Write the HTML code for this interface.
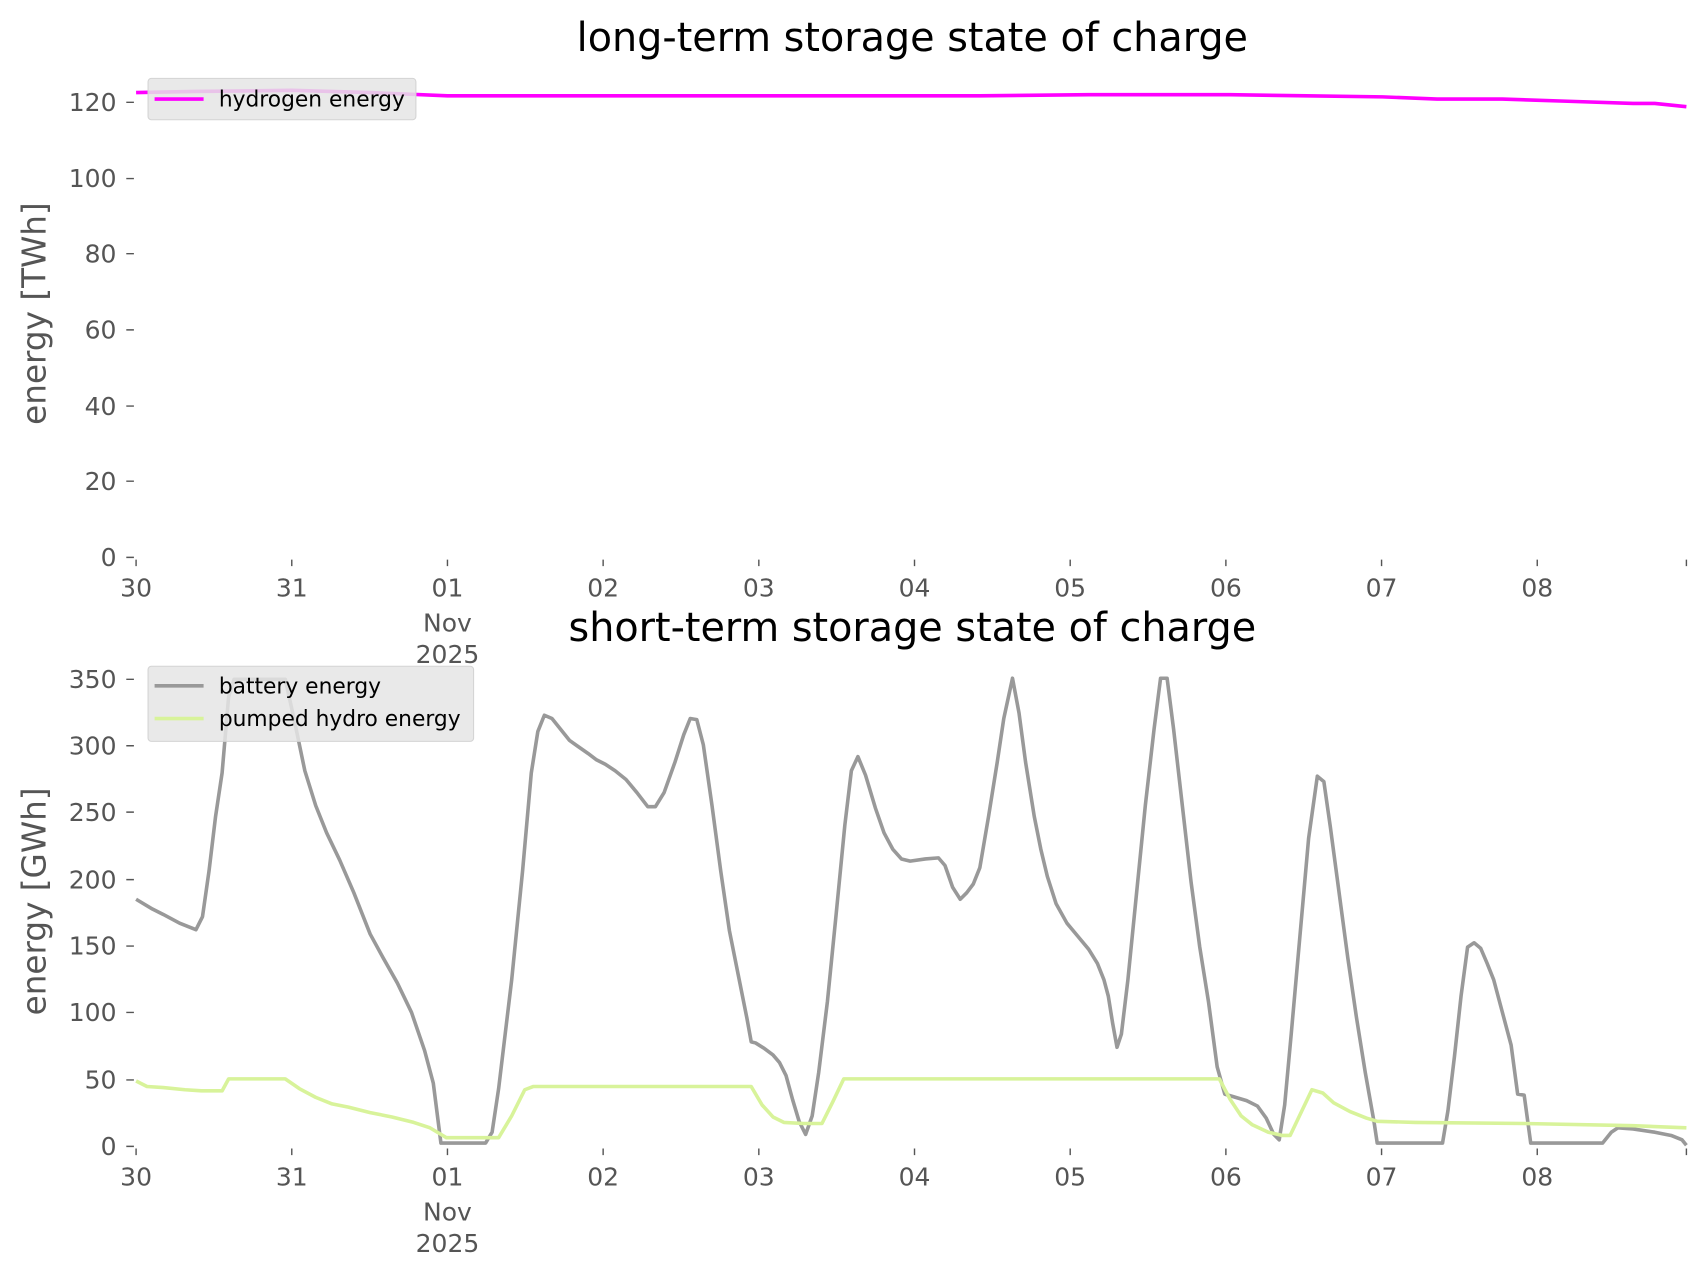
<!DOCTYPE html>
<html><head><meta charset="utf-8"><style>html,body{margin:0;padding:0;background:#fff}svg{display:block}</style></head>
<body>
<svg width="1706" height="1277" viewBox="0 0 1567 1173" preserveAspectRatio="none" xmlns="http://www.w3.org/2000/svg" font-family="DejaVu Sans, Liberation Sans, sans-serif">
<rect width="1567" height="1173" fill="#fff"/>
<text x="838" y="47" font-size="36.5" text-anchor="middle" fill="#000">long-term storage state of charge</text>
<text x="838" y="589" font-size="36.5" text-anchor="middle" fill="#000">short-term storage state of charge</text>
<g fill="#555" font-size="23" text-anchor="end">
<text x="107" y="520">0</text><text x="107" y="450">20</text><text x="107" y="381">40</text><text x="107" y="311">60</text><text x="107" y="241">80</text><text x="107" y="172">100</text><text x="107" y="102">120</text>
<text x="107" y="1061">0</text><text x="107" y="1000">50</text><text x="107" y="938">100</text><text x="107" y="877">150</text><text x="107" y="816">200</text><text x="107" y="754">250</text><text x="107" y="693">300</text><text x="107" y="632">350</text>
</g>
<g stroke="#555" stroke-width="1.3">
<path d="M116 512h7M116 442h7M116 373h7M116 303h7M116 233h7M116 164h7M116 94h7"/>
<path d="M116 1053h7M116 992h7M116 930h7M116 869h7M116 808h7M116 746h7M116 685h7M116 624h7"/>
<path d="M125 514v6M268 514v6M411 514v6M554 514v6M697 514v6M840 514v6M983 514v6M1126 514v6M1269 514v6M1412 514v6M1549 514v6"/>
<path d="M125 1055v6M268 1055v6M411 1055v6M554 1055v6M697 1055v6M840 1055v6M983 1055v6M1126 1055v6M1269 1055v6M1412 1055v6M1549 1055v6"/>
</g>
<g fill="#555" font-size="23" text-anchor="middle">
<text x="125" y="548">30</text><text x="268" y="548">31</text><text x="411" y="548">01</text><text x="554" y="548">02</text><text x="697" y="548">03</text><text x="840" y="548">04</text><text x="983" y="548">05</text><text x="1126" y="548">06</text><text x="1269" y="548">07</text><text x="1412" y="548">08</text>
<text x="411" y="580">Nov</text><text x="411" y="609">2025</text>
<text x="125" y="1089">30</text><text x="268" y="1089">31</text><text x="411" y="1089">01</text><text x="554" y="1089">02</text><text x="697" y="1089">03</text><text x="840" y="1089">04</text><text x="983" y="1089">05</text><text x="1126" y="1089">06</text><text x="1269" y="1089">07</text><text x="1412" y="1089">08</text>
<text x="411" y="1121">Nov</text><text x="411" y="1150">2025</text>
</g>
<text transform="translate(42,288) rotate(-90)" font-size="30" fill="#555" text-anchor="middle">energy [TWh]</text>
<text transform="translate(42,828) rotate(-90)" font-size="30" fill="#555" text-anchor="middle">energy [GWh]</text>
<polyline fill="none" stroke="#ff00ff" stroke-width="3.3" points="125,85 180,84 268,83 340,85 411,88 600,88 900,88 1000,87 1130,87 1200,88 1270,89 1320,91 1380,91 1440,93 1500,95 1520,95 1549,98"/>
<polyline fill="none" stroke="#999" stroke-width="3.3" stroke-linejoin="round" points="125,826 140,835 150,840 165,848 180,854 186,842 192,800 198,750 204,710 210,640 215,624 262,624 270,660 280,708 290,740 300,765 312,790 325,820 340,858 352,880 365,903 378,930 390,965 398,995 405,1050 446,1050 452,1040 458,1000 470,900 480,800 488,710 494,672 500,657 507,660 515,670 523,680 530,685 540,692 548,698 556,702 565,708 575,716 585,728 595,741 602,741 610,728 620,700 628,675 634,660 640,661 646,684 654,740 662,800 670,855 678,895 686,935 690,957 694,958 702,963 710,969 716,976 722,988 728,1010 734,1030 740,1042 746,1025 752,985 760,920 768,840 776,758 782,708 788,695 795,712 804,742 812,765 820,780 828,789 836,791 850,789 862,788 868,795 875,815 882,826 888,820 894,812 900,797 908,750 916,700 922,660 930,623 936,655 942,700 950,750 956,780 962,805 970,830 980,848 990,860 1000,872 1008,885 1014,900 1018,915 1022,940 1026,962 1030,950 1036,900 1044,820 1052,740 1060,670 1066,623 1072,623 1078,670 1086,740 1094,810 1102,870 1110,920 1118,980 1125,1005 1135,1008 1145,1011 1155,1016 1163,1027 1170,1042 1175,1047 1180,1015 1186,950 1194,860 1202,770 1210,713 1216,718 1222,760 1230,820 1238,880 1246,935 1254,985 1262,1030 1265,1050 1325,1050 1330,1020 1336,970 1342,915 1348,870 1354,866 1360,871 1366,885 1372,900 1380,930 1388,960 1394,1005 1400,1006 1406,1050 1472,1050 1480,1040 1486,1036 1500,1037 1520,1040 1535,1043 1545,1047 1549,1052"/>
<polyline fill="none" stroke="#d8f39a" stroke-width="3.3" stroke-linejoin="round" points="125,993 135,998 150,999 170,1001 185,1002 204,1002 210,991 262,991 275,1000 290,1008 305,1014 320,1017 340,1022 360,1026 380,1031 395,1036 405,1042 410,1045 458,1045 470,1025 482,1001 490,998 690,998 700,1015 710,1026 720,1031 738,1032 755,1032 765,1012 775,991 1120,991 1130,1010 1140,1025 1150,1033 1165,1040 1178,1043 1185,1043 1195,1022 1205,1001 1215,1004 1225,1013 1240,1021 1255,1027 1265,1030 1300,1031 1400,1032 1500,1034 1549,1036"/>
<rect x="136" y="72" width="246" height="38" rx="3" fill="#e5e5e5" fill-opacity="0.85" stroke="#d4d4d4"/>
<line x1="142" y1="91" x2="187" y2="91" stroke="#ff00ff" stroke-width="3.3"/>
<text x="201" y="98" font-size="20" fill="#000">hydrogen energy</text>
<rect x="136" y="612" width="299" height="69" rx="3" fill="#e5e5e5" fill-opacity="0.85" stroke="#d4d4d4"/>
<line x1="142" y1="630" x2="187" y2="630" stroke="#999" stroke-width="3.3"/>
<text x="201" y="637" font-size="20" fill="#000">battery energy</text>
<line x1="142" y1="660" x2="187" y2="660" stroke="#d8f39a" stroke-width="3.3"/>
<text x="201" y="667" font-size="20" fill="#000">pumped hydro energy</text>
</svg>
</body></html>
